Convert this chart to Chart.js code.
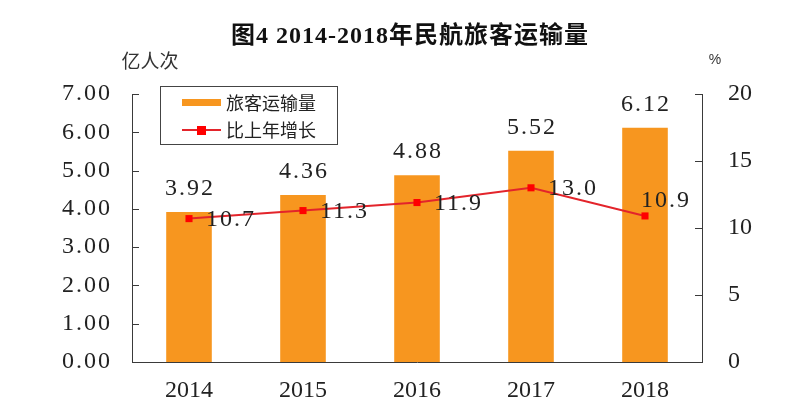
<!DOCTYPE html>
<html>
<head>
<meta charset="utf-8">
<script src="https://cdn.jsdelivr.net/npm/chart.js@4/dist/chart.umd.min.js"></script>
<style>
  html, body { margin: 0; padding: 0; background: #fff; }
  #wrap { width: 800px; height: 419px; }
</style>
</head>
<body>
<div id="wrap"><canvas id="myChart" width="800" height="419"></canvas></div>
<script>
const years = ['2014', '2015', '2016', '2017', '2018'];
const passengers = [3.92, 4.36, 4.88, 5.52, 6.12];   // 亿人次
const growth = [10.7, 11.3, 11.9, 13.0, 10.9];      // %
const leftTicks = [0, 1, 2, 3, 4, 5, 6, 7];
const rightTicks = [0, 5, 10, 15, 20];

const serif = '"Liberation Serif", "Noto Sans CJK SC"';
const axisColor = '#3a3a3a';

// title, units, boxed legend, inward tick marks, value labels
const decor = {
    id: 'decor',
    afterLayout(chart) {
        // decimals on the left axis get wider spacing, like the song-style font
        const s = chart.scales.y;
        if (s && !s._spaced) {
            const orig = s.drawLabels.bind(s);
            s.drawLabels = function (area) {
                chart.ctx.letterSpacing = '2px';
                orig(area);
                chart.ctx.letterSpacing = '0px';
            };
            s._spaced = true;
        }
    },
    afterDraw(chart) {
        const ctx = chart.ctx;
        const area = chart.chartArea;
        ctx.save();

        ctx.fillStyle = '#111';
        ctx.textAlign = 'center';
        ctx.textBaseline = 'middle';
        ctx.letterSpacing = '1px';
        ctx.font = 'bold 24px ' + serif;
        ctx.fillText('图4 2014-2018年民航旅客运输量', 410, 37);

        ctx.letterSpacing = '0px';
        ctx.font = '19px "Noto Sans CJK SC"';
        ctx.fillStyle = '#333';
        ctx.fillText('亿人次', 150, 61);
        ctx.font = '14px "Liberation Sans"';
        ctx.fillText('%', 715, 60);

        // inward ticks
        ctx.strokeStyle = axisColor;
        ctx.lineWidth = 1;
        const yl = chart.scales.y, yr = chart.scales.y1;
        yl.ticks.forEach((t, i) => {
            const py = Math.round(yl.getPixelForTick(i)) + 0.5;
            ctx.beginPath(); ctx.moveTo(area.left, py); ctx.lineTo(area.left + 7, py); ctx.stroke();
        });
        yr.ticks.forEach((t, i) => {
            const py = Math.round(yr.getPixelForTick(i)) + 0.5;
            ctx.beginPath(); ctx.moveTo(area.right, py); ctx.lineTo(area.right - 7, py); ctx.stroke();
        });

        // bar value labels
        ctx.letterSpacing = '2px';
        ctx.fillStyle = '#222';
        ctx.font = '24px ' + serif;
        ctx.textAlign = 'center';
        ctx.textBaseline = 'middle';
        chart.getDatasetMeta(1).data.forEach((bar, i) => {
            ctx.fillText(passengers[i].toFixed(2), bar.x + 1, bar.y - 23);
        });

        // line value labels
        ctx.textAlign = 'left';
        chart.getDatasetMeta(0).data.forEach((pt, i) => {
            const last = i === growth.length - 1;
            ctx.fillText(growth[i].toFixed(1), pt.x + (last ? -4 : 17), pt.y + (last ? -15 : 1));
        });

        // legend
        ctx.letterSpacing = '0px';
        const lx = 160.5, ly = 86.5, lw = 177, lh = 58;
        ctx.fillStyle = '#fff';
        ctx.fillRect(lx, ly, lw, lh);
        ctx.strokeStyle = '#444';
        ctx.strokeRect(lx, ly, lw, lh);
        const ds = chart.data.datasets;
        ctx.fillStyle = ds[1].backgroundColor;
        ctx.fillRect(182, 99, 39, 7);
        ctx.strokeStyle = ds[0].borderColor;
        ctx.lineWidth = 2;
        ctx.beginPath(); ctx.moveTo(182, 130); ctx.lineTo(221, 130); ctx.stroke();
        ctx.fillStyle = ds[0].pointBackgroundColor;
        ctx.fillRect(197, 126, 9, 9);
        ctx.fillStyle = '#222';
        ctx.font = '18px "Noto Sans CJK SC"';
        ctx.textAlign = 'left';
        ctx.fillText(ds[1].label, 226, 103);
        ctx.fillText(ds[0].label, 226, 130);

        ctx.restore();
    }
};

const config = {
    data: {
        labels: years,
        datasets: [{
            type: 'line',
            label: '比上年增长',
            data: growth,
            yAxisID: 'y1',
            borderColor: '#e3242b',
            borderWidth: 2,
            pointStyle: 'rect',
            pointRadius: 5,
            pointBackgroundColor: '#ff0000',
            pointBorderColor: '#ff0000',
            pointBorderWidth: 0,
            order: 0
        }, {
            type: 'bar',
            label: '旅客运输量',
            data: passengers,
            yAxisID: 'y',
            backgroundColor: '#f7961f',
            barPercentage: 0.4,
            categoryPercentage: 1.0,
            order: 1
        }]
    },
    options: {
        responsive: false,
        animation: false,
        layout: { padding: { top: 94, left: 0, right: 0, bottom: 0 } },
        plugins: {
            legend: { display: false },
            title: { display: false },
            tooltip: { enabled: false }
        },
        scales: {
            x: {
                grid: { display: false },
                border: { color: axisColor, width: 1 },
                ticks: { color: '#222', font: { family: serif, size: 24 }, padding: 6 },
                afterFit: (s) => { s.height = 57; }
            },
            y: {
                position: 'left',
                min: 0, max: 7,
                afterBuildTicks: (s) => { s.ticks = leftTicks.map(v => ({ value: v })); },
                grid: { display: false },
                border: { color: axisColor, width: 1 },
                ticks: { color: '#222', font: { family: serif, size: 24 }, padding: 12,
                         callback: (v) => v.toFixed(2) },
                afterFit: (s) => { s.width = 132; }
            },
            y1: {
                position: 'right',
                min: 0, max: 20,
                afterBuildTicks: (s) => { s.ticks = rightTicks.map(v => ({ value: v })); },
                grid: { display: false },
                border: { color: axisColor, width: 1 },
                ticks: { color: '#222', font: { family: serif, size: 24 }, padding: 18 },
                afterFit: (s) => { s.width = 98; }
            }
        }
    },
    plugins: [decor]
};

var myChart = new Chart(document.getElementById('myChart'), config);
</script>
</body>
</html>
